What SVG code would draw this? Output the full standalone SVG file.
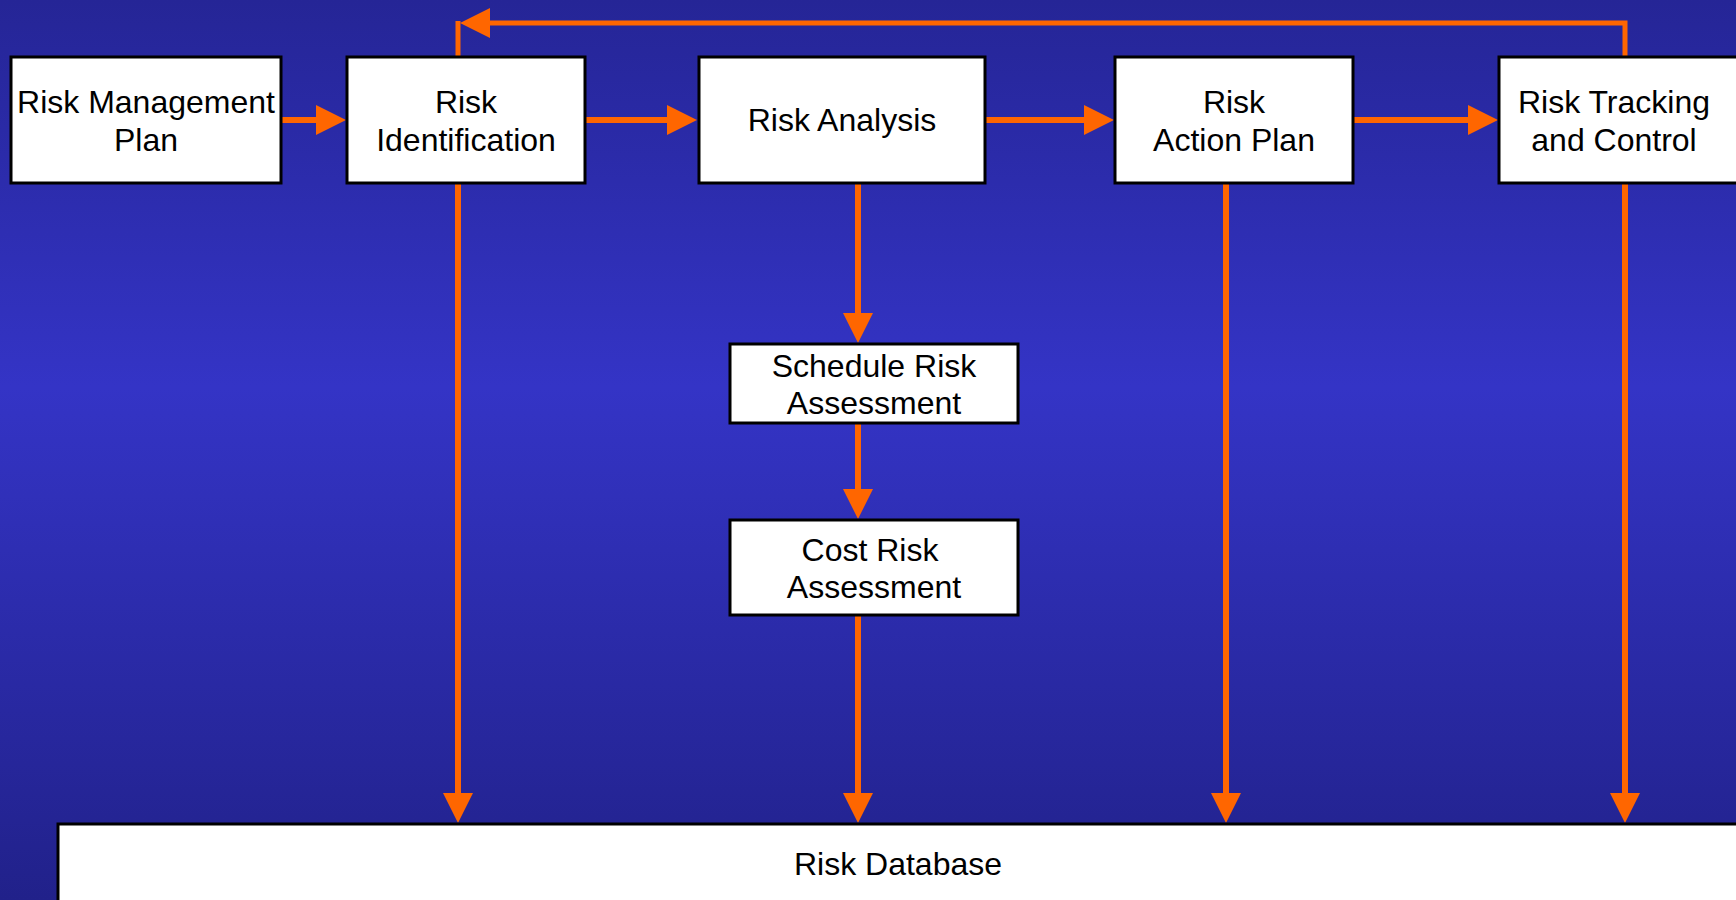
<svg xmlns="http://www.w3.org/2000/svg" width="1736" height="900" viewBox="0 0 1736 900">
<defs>
<linearGradient id="bg" x1="0" y1="0" x2="0" y2="1">
<stop offset="0" stop-color="#252596"/>
<stop offset="0.43" stop-color="#3434C6"/>
<stop offset="1" stop-color="#21218A"/>
</linearGradient>
<marker id="ah" viewBox="0 0 30 30" refX="2" refY="15" markerWidth="30" markerHeight="30" markerUnits="userSpaceOnUse" orient="auto">
<path d="M0,0 L30,15 L0,30 z" fill="#FF6600"/>
</marker>
<style>
.box{fill:#FFFFFF;stroke:#000000;stroke-width:3}
.t{font-family:"Liberation Sans",Arial,sans-serif;font-size:32px;fill:#000000;text-anchor:middle}
.c{fill:none;stroke:#FF6600;stroke-width:6}
.f{fill:none;stroke:#FF6600;stroke-width:5}
</style>
</defs>
<rect x="0" y="0" width="1736" height="900" fill="url(#bg)"/>
<g id="connectors">
<path class="c" d="M282,120 H318" marker-end="url(#ah)"/>
<path class="c" d="M586,120 H669" marker-end="url(#ah)"/>
<path class="c" d="M986,120 H1086" marker-end="url(#ah)"/>
<path class="c" d="M1354,120 H1470" marker-end="url(#ah)"/>
<path class="c" d="M858,184 V315" marker-end="url(#ah)"/>
<path class="c" d="M858,424 V491" marker-end="url(#ah)"/>
<path class="c" d="M858,616 V795" marker-end="url(#ah)"/>
<path class="c" d="M458,184 V795" marker-end="url(#ah)"/>
<path class="c" d="M1226,184 V795" marker-end="url(#ah)"/>
<path class="c" d="M1625,183 V795" marker-end="url(#ah)"/>
<path class="f" d="M1625,56 V23 H488" marker-end="url(#ah)"/>
<path class="f" d="M458,56 V21"/>
</g>
<g id="risk-management-plan">
<rect class="box" x="11" y="57" width="270" height="126"/>
<text class="t" x="146" y="113">Risk Management</text>
<text class="t" x="146" y="151">Plan</text>
</g>
<g id="risk-identification">
<rect class="box" x="347" y="57" width="238" height="126"/>
<text class="t" x="466" y="113">Risk</text>
<text class="t" x="466" y="151">Identification</text>
</g>
<g id="risk-analysis">
<rect class="box" x="699" y="57" width="286" height="126"/>
<text class="t" x="842" y="131">Risk Analysis</text>
</g>
<g id="risk-action-plan">
<rect class="box" x="1115" y="57" width="238" height="126"/>
<text class="t" x="1234" y="113">Risk</text>
<text class="t" x="1234" y="151">Action Plan</text>
</g>
<g id="risk-tracking-and-control">
<rect class="box" x="1499" y="57" width="240" height="126"/>
<text class="t" x="1614" y="113">Risk Tracking</text>
<text class="t" x="1614" y="151">and Control</text>
</g>
<g id="schedule-risk-assessment">
<rect class="box" x="730" y="344" width="288" height="79"/>
<text class="t" x="874" y="377">Schedule Risk</text>
<text class="t" x="874" y="414">Assessment</text>
</g>
<g id="cost-risk-assessment">
<rect class="box" x="730" y="520" width="288" height="95"/>
<text class="t" x="870" y="561">Cost Risk</text>
<text class="t" x="874" y="598">Assessment</text>
</g>
<g id="risk-database">
<rect class="box" x="58" y="824" width="1690" height="100"/>
<text class="t" x="898" y="875">Risk Database</text>
</g>
</svg>
